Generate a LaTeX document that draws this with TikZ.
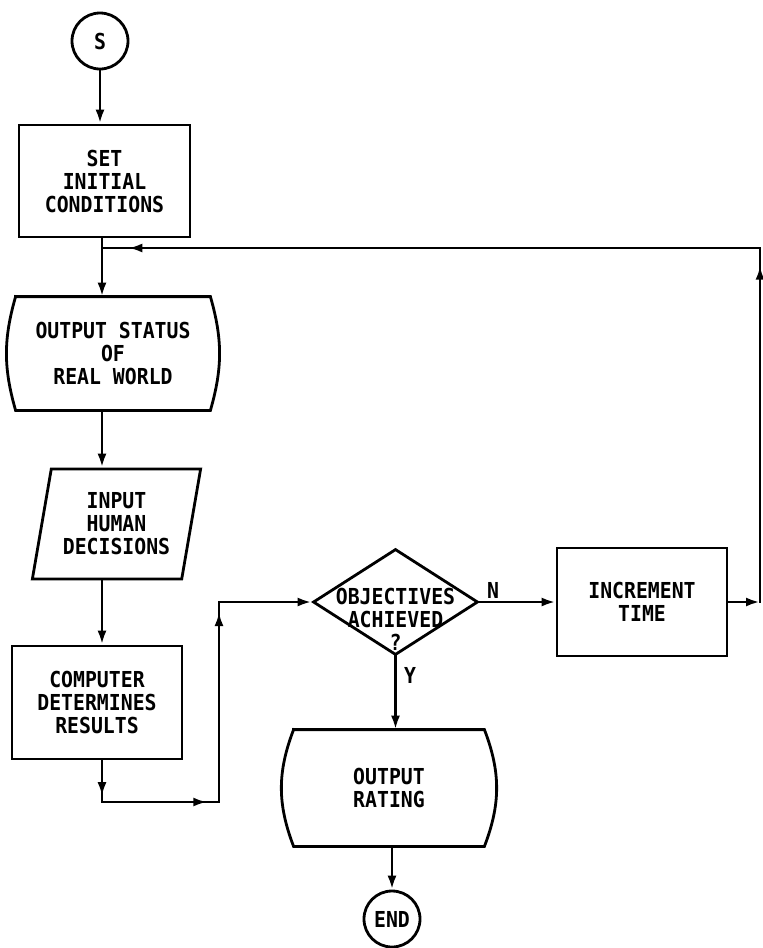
\documentclass[tikz,border=0pt]{standalone}
\usepackage{fontspec}
\setmonofont[FakeStretch=0.9]{DejaVu Sans Mono}
\usetikzlibrary{shapes.geometric,arrows.meta,decorations.markings}

\tikzset{
  flowtext/.style={font=\ttfamily\bfseries\fontsize{11}{11.5}\selectfont,align=center,inner sep=1pt},
  termcircle/.style={flowtext,draw,circle,inner sep=0pt,minimum size=28pt},
  procbox/.style={flowtext,draw,rectangle,inner sep=0pt},
  iobox/.style={flowtext,draw,trapezium,trapezium left angle=76,trapezium right angle=104,
    trapezium stretches=true,inner sep=0pt},
  showbox/.style={flowtext,rectangle,inner sep=0pt},
  decbox/.style={draw,diamond,inner sep=0pt,minimum width=82.5pt,minimum height=53pt},
  arrowat/.style={postaction={decorate},decoration={markings,
    mark=at position #1 with {\arrow{Latex[length=7pt,width=4.5pt]}}}}
}

\begin{document}
\begin{tikzpicture}[x=.5pt,y=-.5pt,line width=1.4pt,line cap=rect,
    >={Latex[length=7pt,width=4.5pt]}]
  \useasboundingbox (0,0) rectangle (762,948);
  \coordinate (col) at (102,0);
  \node[termcircle] (start) at (100,41) {S};
  \node[procbox,minimum width=85.5pt,minimum height=56pt] (init) at (104.5,181) {SET\\INITIAL\\CONDITIONS};
  \node[showbox,minimum width=96pt,minimum height=55.5pt] (status) at (113,353.5) {OUTPUT STATUS\\OF\\REAL WORLD};
  \node[iobox,minimum width=84.5pt,minimum height=55pt] (human) at (116.5,524) {INPUT\\HUMAN\\DECISIONS};
  \node[procbox,minimum width=85pt,minimum height=56.5pt] (comp) at (97,702.5) {COMPUTER\\DETERMINES\\RESULTS};
  \node[decbox] (obj) at (395.5,602) {};
  \node[flowtext] (objtext) at (395.5,619) {OBJECTIVES\\ACHIEVED\\?};
  \node[procbox,minimum width=85pt,minimum height=54pt] (incr) at (642,602) {INCREMENT\\TIME};
  \node[showbox,minimum width=94pt,minimum height=57pt] (rating) at (389,788) {OUTPUT\\RATING};
  \node[termcircle] (stop) at (392,919) {END};
  \node[flowtext] (no) at (493,590) {N};
  \node[flowtext] (yes) at (410,675) {Y};
  % curved sides
  \foreach \n/\b in {status/16,rating/21}
    \draw (\n.north west) -- (\n.north east) to[bend left=\b] (\n.south east)
      -- (\n.south west) to[bend left=\b] (\n.north west);
  \coordinate (j1) at (102,248);
  \coordinate (tr) at (760,248);
  \coordinate (br) at (760,602);
  \coordinate (c1) at (102,802);
  \coordinate (c2) at (219,802);
  \coordinate (c3) at (219,602);
  \draw[->] (start) -- (start |- init.north);
  \draw[->] (init.south -| col) -- (status.north -| col);
  \draw[->] (status.south -| col) -- (human.north -| col);
  \draw[->] (human.south -| col) -- (comp.north -| col);
  \draw[arrowat=.86] (comp.south -| col) -- (c1);
  \draw[arrowat=.9] (c1) -- (c2);
  \draw[arrowat=.95] (c2) -- (c3);
  \draw[->] (c3) -- (obj.west);
  \draw[->] (obj.east) -- (incr.west);
  \draw[->] (obj.south) -- (obj.south |- rating.north);
  \draw[->] (rating.south -| stop) -- (stop.north);
  \draw[->] (incr.east) -- (br);
  \draw[arrowat=.95] (br) -- (tr);
  \draw[arrowat=.96] (tr) -- (j1);
\end{tikzpicture}
\end{document}
